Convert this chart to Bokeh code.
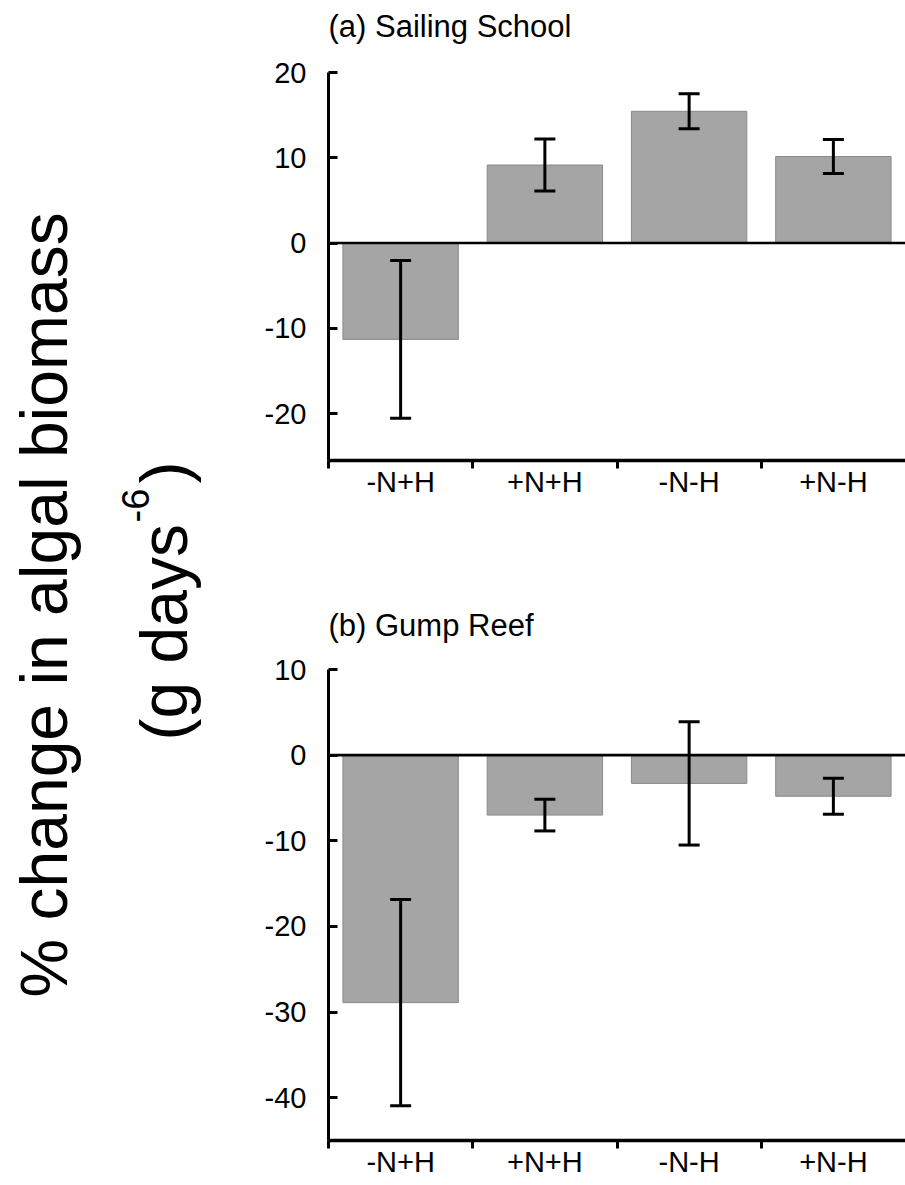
import math
from bokeh.plotting import figure
from bokeh.models import Range1d, FixedTicker, Span, Whisker, ColumnDataSource, TeeHead
from bokeh.layouts import row, column
from bokeh.core.properties import value
from bokeh.embed import file_html
from bokeh.resources import INLINE

# ---- data ----
categories = ["-N+H", "+N+H", "-N-H", "+N-H"]
school_mean = [-11.3, 9.15, 15.45, 10.15]
school_se = [9.25, 3.05, 2.05, 2.0]
gump_mean = [-28.9, -7.0, -3.3, -4.8]
gump_se = [12.05, 1.85, 7.2, 2.1]
school_yticks = [-20, -10, 0, 10, 20]
gump_yticks = [-40, -30, -20, -10, 0, 10]
title_a = "(a) Sailing School"
title_b = "(b) Gump Reef"
ylab_line1 = "% change in algal biomass"
ylab_line2 = "(g days"
ylab_sup = "-6"
ylab_close = ")"

FONT = "Liberation Sans"
BAR_FILL = "#a5a5a5"
BAR_LINE = "#8a8a8a"
PANEL_W = 655


def blank_fig(width, height):
    f = figure(width=width, height=height, x_range=Range1d(0, width),
               y_range=Range1d(0, height), output_backend="svg",
               toolbar_location=None, x_axis_type=None, y_axis_type=None,
               min_border=0, min_border_left=0, min_border_right=0,
               min_border_top=0, min_border_bottom=0)
    f.outline_line_color = None
    f.grid.visible = False
    return f


def title_strip(text, height, x, y):
    f = blank_fig(PANEL_W, height)
    f.text(x=[x], y=[y], text=[text],
           text_font=value(FONT), text_font_size="31px", text_align="left",
           text_baseline="alphabetic", text_color="black")
    return f


def make_panel(means, ses, ymin, ymax, yticks, height, top, bottom):
    p = figure(width=PANEL_W, height=height, x_range=Range1d(0, len(categories)),
               y_range=Range1d(ymin, ymax), output_backend="svg",
               toolbar_location=None, min_border_left=78, min_border_right=0,
               min_border_top=top, min_border_bottom=bottom)
    p.outline_line_color = None
    p.grid.visible = False
    p.background_fill_color = "white"
    p.border_fill_color = "white"

    xs = [i + 0.5 for i in range(len(categories))]
    src = ColumnDataSource(dict(
        x=xs, top=means,
        upper=[m + s for m, s in zip(means, ses)],
        lower=[m - s for m, s in zip(means, ses)]))
    p.vbar(x="x", top="top", bottom=0, width=0.8, source=src,
           fill_color=BAR_FILL, line_color=BAR_LINE, line_width=1)

    p.add_layout(Span(location=0, dimension="width", line_color="black",
                      line_width=2.6, level="overlay"))
    w = Whisker(source=src, base="x", upper="upper", lower="lower",
                line_color="black", line_width=3, level="overlay",
                upper_head=TeeHead(size=21, line_width=3, line_color="black"),
                lower_head=TeeHead(size=21, line_width=3, line_color="black"))
    p.add_layout(w)

    # x axis: labels at category centres, ticks at boundaries (minor ticks)
    xa = p.xaxis[0]
    xa.ticker = FixedTicker(ticks=xs, minor_ticks=list(range(len(categories))))
    xa.major_label_overrides = {x: c for x, c in zip(xs, categories)}
    xa.major_tick_out = 0
    xa.major_tick_in = 0
    xa.minor_tick_out = 8
    xa.minor_tick_in = 0
    xa.minor_tick_line_width = 3
    xa.minor_tick_line_color = "black"
    xa.axis_line_width = 3.4
    xa.axis_line_color = "black"
    xa.major_label_standoff = -3
    xa.major_label_text_font = FONT
    xa.major_label_text_font_size = "29px"
    xa.major_label_text_color = "black"

    ya = p.yaxis[0]
    ya.ticker = FixedTicker(ticks=yticks, minor_ticks=[])
    ya.major_label_overrides = {t: str(t) for t in yticks}
    ya.major_tick_in = 9
    ya.major_tick_out = 0
    ya.major_tick_line_width = 3
    ya.major_tick_line_color = "black"
    ya.minor_tick_line_color = None
    ya.axis_line_width = 3
    ya.axis_line_color = "black"
    ya.major_label_standoff = 22
    ya.major_label_text_font = FONT
    ya.major_label_text_font_size = "29px"
    ya.major_label_text_color = "black"
    return p


strip_a = title_strip(title_a, 52, 0, 26)
fig_a = make_panel(school_mean, school_se, -25.5, 20, school_yticks, 523, 20, 115)
strip_b = title_strip(title_b, 74, 0, 24)
fig_b = make_panel(gump_mean, gump_se, -45, 10, gump_yticks, 536, 20, 45)

# ---- y-axis label panel ----
H = 1185
fl = blank_fig(250, H)
ang = math.pi / 2
fl.text(x=[43], y=[H - 997], text=[ylab_line1], angle=ang, text_font=value(FONT),
        text_font_size="66px", text_align="left", text_baseline="alphabetic",
        text_color="black")
fl.text(x=[163], y=[H - 740], text=[ylab_line2], angle=ang, text_font=value(FONT),
        text_font_size="66px", text_align="left", text_baseline="alphabetic",
        text_color="black")
fl.text(x=[135], y=[H - 522], text=[ylab_sup], angle=ang, text_font=value(FONT),
        text_font_size="38px", text_align="left", text_baseline="alphabetic",
        text_color="black")
fl.text(x=[163], y=[H - 483], text=[ylab_close], angle=ang, text_font=value(FONT),
        text_font_size="66px", text_align="left", text_baseline="alphabetic",
        text_color="black")

layout = row(fl, column(strip_a, fig_a, strip_b, fig_b))
open("out.html", "w").write(file_html(layout, INLINE))
